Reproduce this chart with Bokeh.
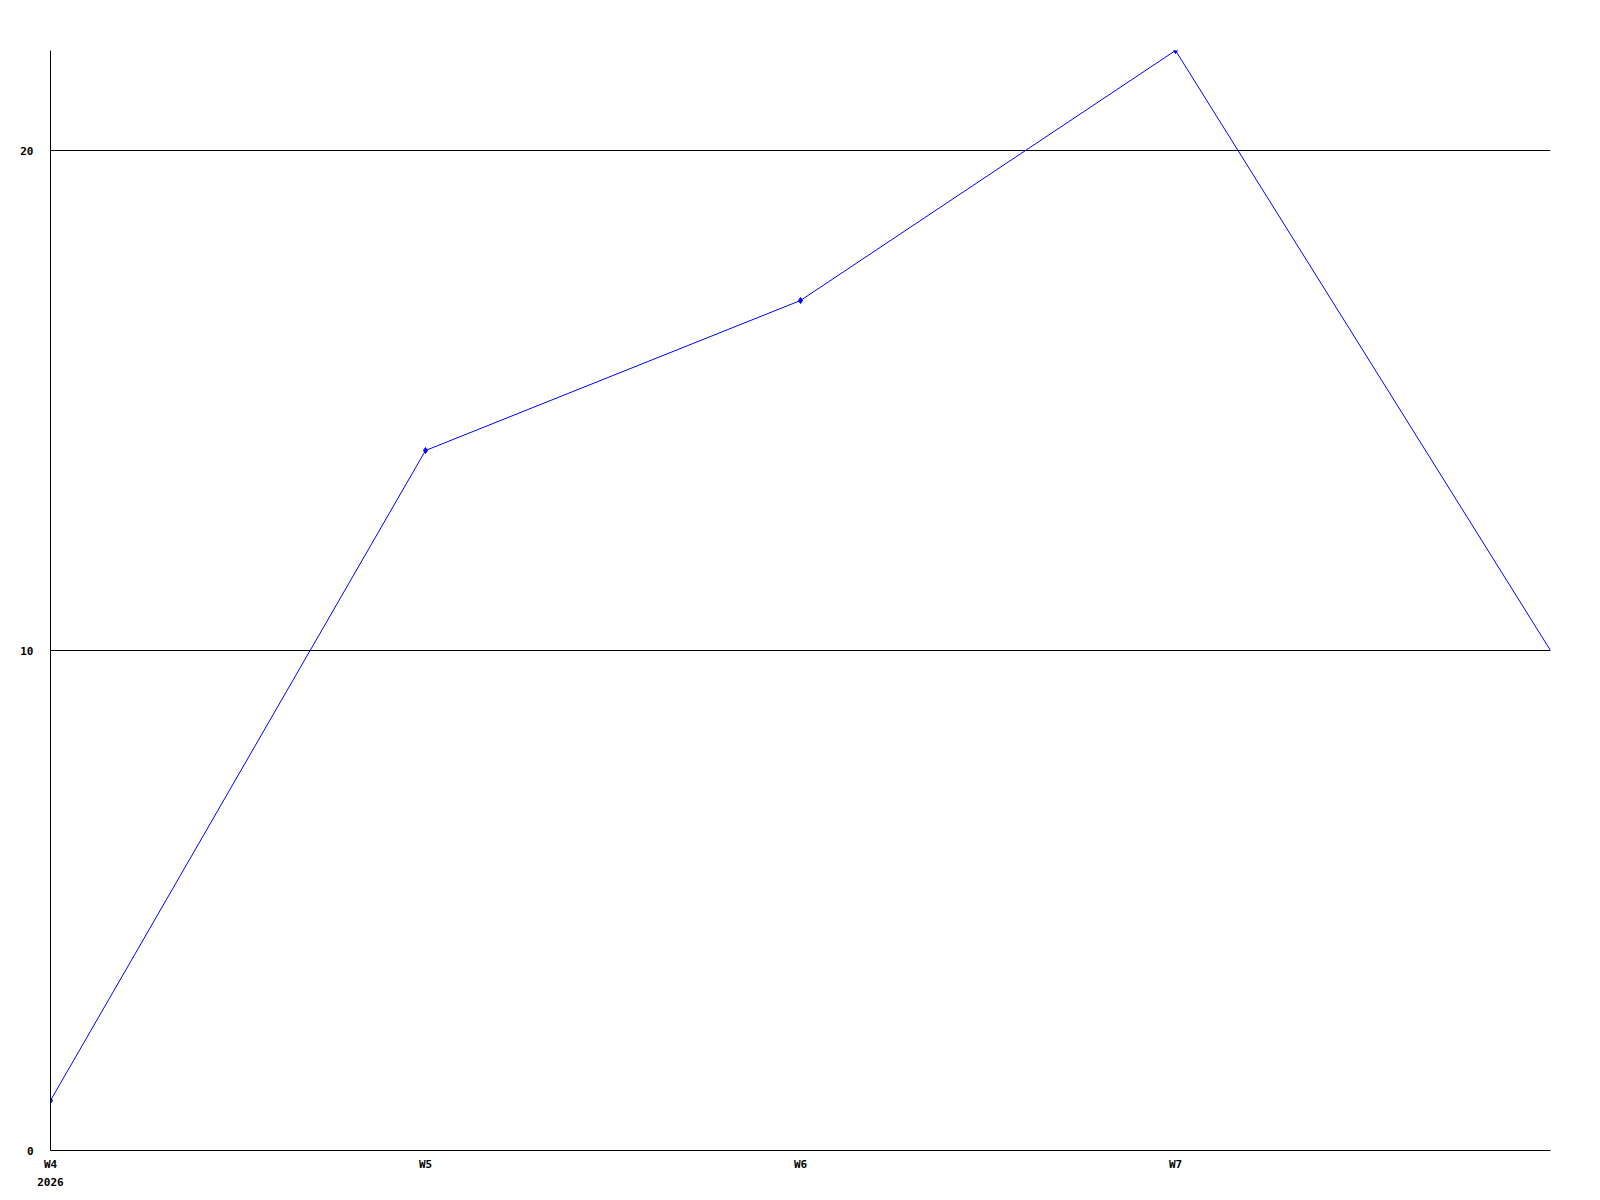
from bokeh.plotting import figure
from bokeh.models import Range1d, FixedTicker
from bokeh.embed import file_html
from bokeh.resources import INLINE

weeks = [0, 1, 2, 3, 4]
week_labels = ["W4\n2026", "W5", "W6", "W7"]
values = [1, 14, 17, 22, 10]
y_ticks = [0, 10, 20]

p = figure(width=1592, height=1192, output_backend="svg", toolbar_location=None,
           x_range=Range1d(0, 4), y_range=Range1d(0, 22))
p.frame_width = 1500
p.frame_height = 1100
p.min_border_left = 50
p.min_border_top = 50
p.min_border_right = 42
p.min_border_bottom = 42
p.outline_line_color = None
p.background_fill_color = "white"
p.border_fill_color = "white"

p.xgrid.visible = False
p.ygrid.grid_line_color = "black"
p.ygrid.grid_line_alpha = 1.0
p.ygrid.ticker = FixedTicker(ticks=y_ticks)

for ax in (p.xaxis[0], p.yaxis[0]):
    ax.axis_line_color = "black"
    ax.major_tick_line_color = None
    ax.minor_tick_line_color = None
    ax.major_tick_out = 0
    ax.major_tick_in = 0
    ax.minor_tick_out = 0
    ax.major_label_text_font = "DejaVu Sans Mono"
    ax.major_label_text_font_style = "bold"
    ax.major_label_text_font_size = "11px"
    ax.major_label_text_color = "black"

p.xaxis[0].ticker = FixedTicker(ticks=weeks[:4])
p.xaxis[0].major_label_overrides = {i: lab for i, lab in zip(weeks[:4], week_labels)}
p.xaxis[0].major_label_standoff = 7
p.xaxis[0].major_label_text_line_height = 1.4
p.yaxis[0].ticker = FixedTicker(ticks=y_ticks)
p.yaxis[0].major_label_standoff = 17

p.line(weeks, values, line_color="#0000ff", line_width=1)
p.scatter(weeks[:4], values[:4], marker="diamond", size=6,
          fill_color="#0000ff", line_color="#0000ff")

open("out.html", "w").write(file_html(p, INLINE))
